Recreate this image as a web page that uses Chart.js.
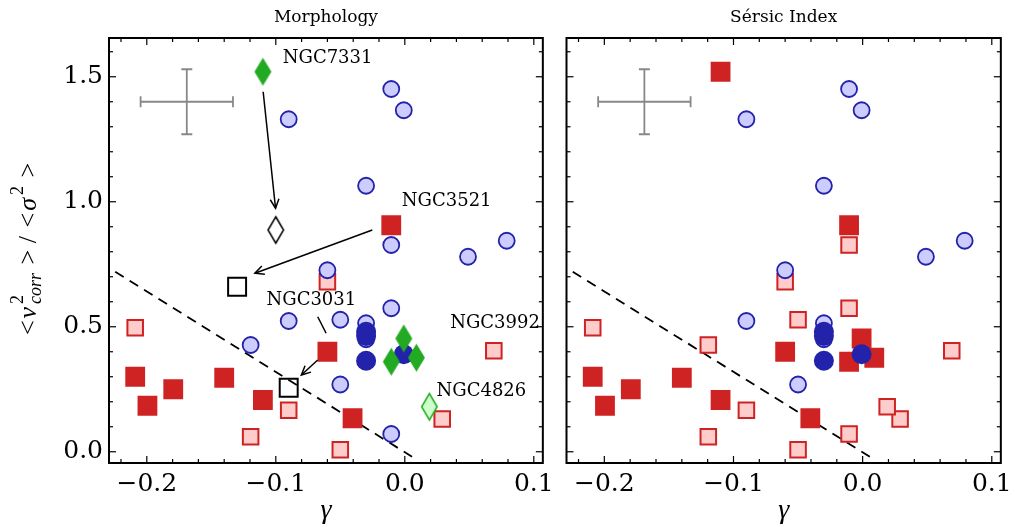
<!DOCTYPE html>
<html>
<head>
<meta charset="utf-8">
<script src="https://cdn.jsdelivr.net/npm/chart.js@4.4.1/dist/chart.umd.min.js"></script>
<style>
body { margin: 0; background: #fff; width: 1018px; height: 527px; position: relative; overflow: hidden; }
.panel { position: absolute; top: 0; height: 527px; }
#left { left: 0; width: 560px; }
#right { left: 552px; width: 466px; }
</style>
</head>
<body>
<div class="panel" id="left"><canvas id="chartMorph"></canvas></div>
<div class="panel" id="right"><canvas id="chartSersic"></canvas></div>
<script>
// [gamma, <v^2_corr>/<sigma^2>]

// Morphology panel
const lateFilledMorph = [[-0.209, 0.30], [-0.1995, 0.184], [-0.1795, 0.25], [-0.14, 0.296], [-0.11, 0.207], [-0.0405, 0.134], [-0.060, 0.40], [-0.0105, 0.906]]
const lateOpenMorph = [[-0.209, 0.496], [-0.09, 0.166], [-0.1195, 0.06], [-0.050, 0.008], [-0.060, 0.68], [0.069, 0.404], [0.029, 0.131]]
const earlyLightMorph = [[-0.090, 1.33], [-0.0105, 1.451], [-0.0008, 1.366], [-0.030, 1.064], [-0.0105, 0.827], [0.079, 0.844], [0.049, 0.78], [-0.060, 0.726], [-0.0105, 0.574], [-0.050, 0.528], [-0.030, 0.514], [-0.030, 0.45], [-0.050, 0.269], [-0.0105, 0.071], [-0.1195, 0.427], [-0.09, 0.523]]
const earlyDark = [[-0.030, 0.48], [-0.030, 0.463], [-0.030, 0.364], [-0.0008, 0.39]]
const barredMorph = [[-0.110, 1.52], [-0.0008, 0.453], [-0.0105, 0.36], [0.009, 0.376]]
const barredLightMorph = [[0.019, 0.18]]
const movedDiamond = [[-0.100, 0.887]]
const movedSquares = [[-0.130, 0.66], [-0.090, 0.256]]

// Sersic index panel
const highNFilled = [[-0.209, 0.30], [-0.1995, 0.184], [-0.1795, 0.25], [-0.14, 0.296], [-0.11, 0.207], [-0.0405, 0.134], [-0.060, 0.40], [-0.0105, 0.906], [-0.110, 1.52], [-0.0008, 0.453], [-0.0105, 0.36], [0.009, 0.376]]
const highNOpen = [[-0.209, 0.496], [-0.09, 0.166], [-0.1195, 0.06], [-0.050, 0.008], [-0.060, 0.68], [0.069, 0.404], [0.029, 0.131], [-0.0105, 0.827], [-0.0105, 0.574], [-0.050, 0.528], [-0.0105, 0.071], [-0.1195, 0.427], [0.019, 0.18]]
const lowNLight = [[-0.090, 1.33], [-0.0105, 1.451], [-0.0008, 1.366], [-0.030, 1.064], [0.079, 0.844], [0.049, 0.78], [-0.060, 0.726], [-0.030, 0.514], [-0.030, 0.45], [-0.050, 0.269], [-0.09, 0.523]]

// dividing line and typical error
const dividerLine = [[-0.2245, 0.72], [0.0056, -0.02]]
const errCenter = [-0.169, 1.40]
const errX = 0.0358
const errY = 0.13

// annotations (left panel only)
const arrowFrom = [[-0.1098, 1.44], [-0.0252, 0.887], [-0.0675, 0.367]]
const arrowTo = [[-0.1002, 0.974], [-0.1162, 0.714], [-0.0802, 0.307]]
const pointerLine = [[-0.0675, 0.54], [-0.061, 0.474]]
const labelNames = ['NGC7331', 'NGC3521', 'NGC3031', 'NGC3992', 'NGC4826']
const labelAt = [[-0.0946, 1.575], [-0.0023, 1.0], [-0.1072, 0.607], [0.0352, 0.515], [0.0246, 0.24]]

const xRange = [-0.2293, 0.107]
const yRange = [-0.045, 1.655]

const RED = '#cf2222', PINK = '#ffcccc', BLUE = '#2222aa', LBLUE = '#ccccff', GREEN = '#22aa22', LGREEN = '#ccffcc'
const SERIF = "'DejaVu Serif', serif"
const MATH = "'Liberation Serif', serif"

const pts = arr => arr.map(([x, y]) => ({ x, y }))
const fmt = v => {
    const r = Math.round(v * 10) / 10
    return (r < 0 ? '\u2212' : '') + Math.abs(r).toFixed(1)
}

// thin diamond marker (matplotlib 'd')
const diamond = (fill, stroke, w, h, lw) => {
    const c = document.createElement('canvas')
    c.width = w + 4
    c.height = h + 4
    const g = c.getContext('2d')
    const cx = c.width / 2, cy = c.height / 2
    g.beginPath()
    g.moveTo(cx, cy - h / 2 + lw / 2)
    g.lineTo(cx + w / 2 - lw / 2, cy)
    g.lineTo(cx, cy + h / 2 - lw / 2)
    g.lineTo(cx - w / 2 + lw / 2, cy)
    g.closePath()
    g.fillStyle = fill
    g.fill()
    if (lw) {
        g.lineWidth = lw
        g.strokeStyle = stroke
        g.stroke()
    }
    return c
}

const scatter = (data, extra) => Object.assign({ type: 'scatter', data: pts(data), pointBorderWidth: 0 }, extra)

const commonDatasets = () => [
    {
        type: 'line', data: pts(dividerLine), borderColor: '#000', borderWidth: 1.8,
        borderDash: [10, 7], pointRadius: 0, order: 20
    },
    {
        type: 'line', data: [{ x: errCenter[0] - errX, y: errCenter[1] }, { x: errCenter[0] + errX, y: errCenter[1] }],
        borderColor: '#888', borderWidth: 1.8, pointStyle: 'line', pointRotation: 90, pointRadius: 5.5,
        pointBorderColor: '#888', pointBorderWidth: 1.8, order: 21
    },
    {
        type: 'line', data: [{ x: errCenter[0], y: errCenter[1] - errY }, { x: errCenter[0], y: errCenter[1] + errY }],
        borderColor: '#888', borderWidth: 1.8, pointStyle: 'line', pointRotation: 0, pointRadius: 5.5,
        pointBorderColor: '#888', pointBorderWidth: 1.8, order: 21
    }
]

const frameTicks = {
    id: 'frameTicks',
    afterDraw(chart) {
        const { ctx, chartArea: a, scales: { x, y } } = chart
        ctx.save()
        ctx.strokeStyle = '#000'
        ctx.lineWidth = 1.2
        const seg = (x1, y1, x2, y2) => {
            ctx.beginPath(); ctx.moveTo(x1, y1); ctx.lineTo(x2, y2); ctx.stroke()
        }
        for (let i = -12; i <= 6; i++) {
            const px = x.getPixelForValue(i * 0.02)
            if (px < a.left + 1 || px > a.right - 1) continue
            const len = i % 5 === 0 ? 7 : 4
            seg(px, a.bottom, px, a.bottom - len)
            seg(px, a.top, px, a.top + len)
        }
        for (let j = 0; j <= 16; j++) {
            const py = y.getPixelForValue(j * 0.1)
            const len = j % 5 === 0 ? 7 : 4
            seg(a.left, py, a.left + len, py)
            seg(a.right, py, a.right - len, py)
        }
        ctx.lineWidth = 2
        ctx.strokeRect(a.left, a.top, a.right - a.left, a.bottom - a.top)
        ctx.restore()
    }
}

const panelTitle = {
    id: 'panelTitle',
    afterDraw(chart, args, opts) {
        const { ctx, chartArea: a } = chart
        ctx.save()
        ctx.fillStyle = '#000'
        ctx.font = `17px ${SERIF}`
        ctx.textAlign = 'center'
        ctx.textBaseline = 'middle'
        ctx.fillText(opts.text, (a.left + a.right) / 2, 18)
        ctx.restore()
    }
}

const annotations = {
    id: 'annotations',
    afterDatasetsDraw(chart) {
        const { ctx, scales: { x, y } } = chart
        const P = ([vx, vy]) => [x.getPixelForValue(vx), y.getPixelForValue(vy)]
        ctx.save()
        ctx.strokeStyle = '#000'
        ctx.lineWidth = 1.5
        arrowFrom.forEach((f, i) => {
            const [x1, y1] = P(f), [x2, y2] = P(arrowTo[i])
            ctx.beginPath(); ctx.moveTo(x1, y1); ctx.lineTo(x2, y2); ctx.stroke()
            const ang = Math.atan2(y2 - y1, x2 - x1), hl = 10, hw = 0.45
            ctx.beginPath()
            ctx.moveTo(x2 - hl * Math.cos(ang - hw), y2 - hl * Math.sin(ang - hw))
            ctx.lineTo(x2, y2)
            ctx.lineTo(x2 - hl * Math.cos(ang + hw), y2 - hl * Math.sin(ang + hw))
            ctx.stroke()
        })
        const [a1, b1] = P(pointerLine[0]), [a2, b2] = P(pointerLine[1])
        ctx.beginPath(); ctx.moveTo(a1, b1); ctx.lineTo(a2, b2); ctx.stroke()
        ctx.fillStyle = '#000'
        ctx.font = `18px ${SERIF}`
        ctx.textAlign = 'left'
        ctx.textBaseline = 'middle'
        labelNames.forEach((name, i) => {
            const [lx, ly] = P(labelAt[i])
            ctx.fillText(name, lx, ly)
        })
        ctx.restore()
    }
}

// y axis title: <v^2_corr> / <sigma^2>
const yTitle = {
    id: 'yTitle',
    afterDraw(chart) {
        const { ctx } = chart
        const parts = [
            { t: '<', f: `26px ${MATH}` },
            { t: 'v', f: `italic 26px ${MATH}` },
            { sup: '2', sub: 'corr' },
            { t: ' > / ', f: `26px ${MATH}` },
            { t: '<', f: `26px ${MATH}` },
            { t: '\u03c3', f: `italic 26px ${MATH}` },
            { sup: '2' },
            { t: ' >', f: `26px ${MATH}` }
        ]
        const small = `18px ${MATH}`, smallIt = `italic 18px ${MATH}`
        const widths = parts.map(p => {
            if (p.t) { ctx.font = p.f; return ctx.measureText(p.t).width + 2 }
            ctx.font = small
            const w1 = ctx.measureText(p.sup).width
            ctx.font = smallIt
            const w2 = p.sub ? ctx.measureText(p.sub).width : 0
            return Math.max(w1, w2) + 3
        })
        const total = widths.reduce((s, w) => s + w, 0)
        ctx.save()
        ctx.translate(27, 248)
        ctx.rotate(-Math.PI / 2)
        ctx.fillStyle = '#000'
        ctx.textBaseline = 'alphabetic'
        ctx.textAlign = 'left'
        let cx = -total / 2
        parts.forEach((p, i) => {
            if (p.t) {
                ctx.font = p.f
                ctx.fillText(p.t, cx, 9)
            } else {
                ctx.font = small
                ctx.fillText(p.sup, cx + 1, -4)
                if (p.sub) { ctx.font = smallIt; ctx.fillText(p.sub, cx + 1, 14) }
            }
            cx += widths[i]
        })
        ctx.restore()
    }
}

const xScale = (showTitle) => ({
    type: 'linear', min: xRange[0], max: xRange[1],
    grid: { display: false, drawTicks: false }, border: { display: false },
    ticks: {
        stepSize: 0.1, includeBounds: false, autoSkip: false, maxRotation: 0,
        color: '#000', padding: 6, font: { family: SERIF, size: 25 }, callback: v => fmt(v)
    },
    title: { display: showTitle, text: '\u03b3', color: '#000', padding: 0, font: { family: MATH, style: 'italic', size: 28 } },
    afterFit: s => { s.height = 64 }
})

const yScale = (showTicks, width) => ({
    type: 'linear', min: yRange[0], max: yRange[1],
    grid: { display: false, drawTicks: false }, border: { display: false },
    ticks: {
        display: showTicks, stepSize: 0.5, includeBounds: false, color: '#000', padding: 6,
        font: { family: SERIF, size: 25 }, callback: v => fmt(v)
    },
    afterFit: s => { s.width = width }
})

const baseOptions = (title, showYTicks, yWidth, padRight) => ({
    responsive: true, maintainAspectRatio: false, animation: false,
    layout: { padding: { top: 38, right: padRight, bottom: 0, left: 0 } },
    plugins: { legend: { display: false }, tooltip: { enabled: false }, panelTitle: { text: title } },
    scales: { x: xScale(true), y: yScale(showYTicks, yWidth) }
})

new Chart('chartMorph', {
    data: {
        datasets: [
            scatter(barredMorph, { pointStyle: diamond(GREEN, GREEN, 17, 28, 0), order: 0 }),
            scatter(barredLightMorph, { pointStyle: diamond(LGREEN, GREEN, 17, 28, 1.5), order: 0 }),
            scatter(movedDiamond, { pointStyle: diamond('#fff', '#000', 17, 28, 1.5), order: 0 }),
            scatter(movedSquares, { pointStyle: 'rect', pointRadius: 12.7, pointBackgroundColor: 'rgba(0,0,0,0)', pointBorderColor: '#000', pointBorderWidth: 2, order: 0 }),
            scatter(earlyDark, { pointStyle: 'circle', pointRadius: 10, pointBackgroundColor: BLUE, order: 1 }),
            scatter(earlyLightMorph, { pointStyle: 'circle', pointRadius: 8, pointBackgroundColor: LBLUE, pointBorderColor: BLUE, pointBorderWidth: 1.8, order: 2 }),
            scatter(lateFilledMorph, { pointStyle: 'rect', pointRadius: 14, pointBackgroundColor: RED, order: 3 }),
            scatter(lateOpenMorph, { pointStyle: 'rect', pointRadius: 11, pointBackgroundColor: PINK, pointBorderColor: RED, pointBorderWidth: 2, order: 4 }),
            ...commonDatasets()
        ]
    },
    options: baseOptions('Morphology', true, 109, 15),
    plugins: [frameTicks, panelTitle, annotations, yTitle]
})

new Chart('chartSersic', {
    data: {
        datasets: [
            scatter(earlyDark, { pointStyle: 'circle', pointRadius: 10, pointBackgroundColor: BLUE, order: 1 }),
            scatter(lowNLight, { pointStyle: 'circle', pointRadius: 8, pointBackgroundColor: LBLUE, pointBorderColor: BLUE, pointBorderWidth: 1.8, order: 2 }),
            scatter(highNFilled, { pointStyle: 'rect', pointRadius: 14, pointBackgroundColor: RED, order: 3 }),
            scatter(highNOpen, { pointStyle: 'rect', pointRadius: 11, pointBackgroundColor: PINK, pointBorderColor: RED, pointBorderWidth: 2, order: 4 }),
            ...commonDatasets()
        ]
    },
    options: baseOptions('S\u00e9rsic Index', false, 14.5, 16),
    plugins: [frameTicks, panelTitle]
})
</script>
</body>
</html>
